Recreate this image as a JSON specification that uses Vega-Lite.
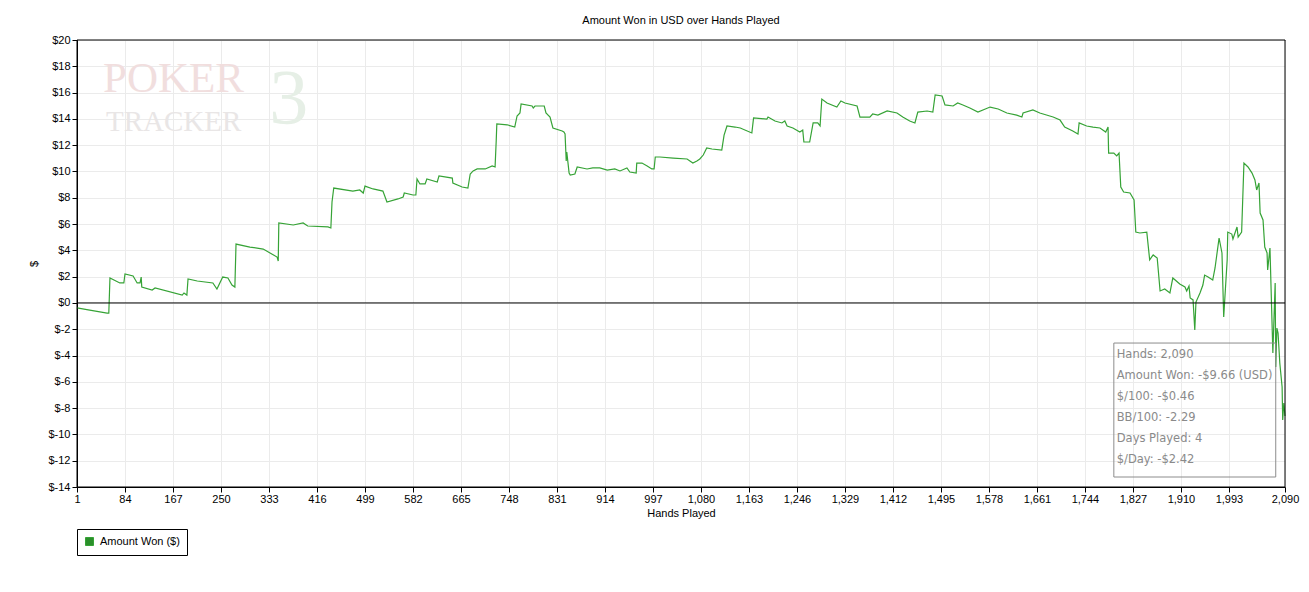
{
  "$schema": "https://vega.github.io/schema/vega-lite/v6.json",
  "width": 1208,
  "height": 447,
  "autosize": "none",
  "padding": {"left": 77, "top": 40, "right": 24, "bottom": 105},
  "background": "white",
  "title": {
    "text": "Amount Won in USD over Hands Played",
    "font": "Liberation Sans",
    "fontSize": 11,
    "fontWeight": "normal",
    "color": "black",
    "offset": 8
  },
  "config": {
    "font": "Liberation Sans",
    "view": {"stroke": "black", "strokeWidth": 1},
    "axis": {
      "domainColor": "black",
      "tickColor": "black",
      "tickSize": 5,
      "labelColor": "black",
      "labelFont": "Liberation Sans",
      "labelFontSize": 11,
      "labelOverlap": false,
      "titleFont": "Liberation Sans",
      "titleFontSize": 11,
      "titleFontWeight": "normal",
      "titleColor": "black",
      "gridColor": "#ebebeb",
      "gridWidth": 1
    }
  },
  "datasets": {
    "won": [
      {"hand": 1, "amount": -0.38}, {"hand": 23, "amount": -0.54}, {"hand": 53, "amount": -0.77}, {"hand": 56, "amount": -0.77},
      {"hand": 58, "amount": 1.9}, {"hand": 75, "amount": 1.52}, {"hand": 82, "amount": 1.52}, {"hand": 84, "amount": 2.2},
      {"hand": 98, "amount": 2.05}, {"hand": 105, "amount": 1.52}, {"hand": 110, "amount": 1.52}, {"hand": 112, "amount": 1.97},
      {"hand": 113, "amount": 1.21}, {"hand": 131, "amount": 0.98}, {"hand": 136, "amount": 1.14}, {"hand": 183, "amount": 0.6},
      {"hand": 186, "amount": 0.76}, {"hand": 191, "amount": 0.6}, {"hand": 193, "amount": 1.82}, {"hand": 209, "amount": 1.67},
      {"hand": 236, "amount": 1.52}, {"hand": 243, "amount": 1.06}, {"hand": 253, "amount": 1.97}, {"hand": 262, "amount": 1.9},
      {"hand": 269, "amount": 1.36}, {"hand": 274, "amount": 1.21}, {"hand": 276, "amount": 4.48}, {"hand": 300, "amount": 4.25},
      {"hand": 323, "amount": 4.1}, {"hand": 347, "amount": 3.49}, {"hand": 349, "amount": 3.19}, {"hand": 350, "amount": 6.08},
      {"hand": 375, "amount": 5.93}, {"hand": 392, "amount": 6.08}, {"hand": 400, "amount": 5.85}, {"hand": 435, "amount": 5.78},
      {"hand": 440, "amount": 5.7}, {"hand": 442, "amount": 7.68}, {"hand": 445, "amount": 8.74}, {"hand": 478, "amount": 8.51},
      {"hand": 490, "amount": 8.59}, {"hand": 496, "amount": 8.36}, {"hand": 499, "amount": 8.89}, {"hand": 513, "amount": 8.67},
      {"hand": 530, "amount": 8.51}, {"hand": 537, "amount": 7.68}, {"hand": 556, "amount": 7.91}, {"hand": 565, "amount": 8.06},
      {"hand": 567, "amount": 8.36}, {"hand": 582, "amount": 8.21}, {"hand": 587, "amount": 8.21}, {"hand": 589, "amount": 9.43},
      {"hand": 594, "amount": 9.05}, {"hand": 603, "amount": 9.05}, {"hand": 606, "amount": 9.43}, {"hand": 624, "amount": 9.2},
      {"hand": 627, "amount": 9.66}, {"hand": 650, "amount": 9.5}, {"hand": 651, "amount": 9.12}, {"hand": 667, "amount": 8.82},
      {"hand": 677, "amount": 8.74}, {"hand": 681, "amount": 9.81}, {"hand": 686, "amount": 10.04}, {"hand": 693, "amount": 10.19},
      {"hand": 707, "amount": 10.19}, {"hand": 719, "amount": 10.42}, {"hand": 724, "amount": 10.34}, {"hand": 726, "amount": 12.39},
      {"hand": 727, "amount": 13.61}, {"hand": 745, "amount": 13.55}, {"hand": 758, "amount": 13.38}, {"hand": 762, "amount": 14.22},
      {"hand": 767, "amount": 14.45}, {"hand": 769, "amount": 15.13}, {"hand": 788, "amount": 14.98}, {"hand": 790, "amount": 14.83},
      {"hand": 793, "amount": 14.98}, {"hand": 809, "amount": 14.98}, {"hand": 812, "amount": 14.45}, {"hand": 819, "amount": 14.14},
      {"hand": 824, "amount": 13.31}, {"hand": 840, "amount": 13.08}, {"hand": 843, "amount": 13.0}, {"hand": 845, "amount": 12.85},
      {"hand": 847, "amount": 10.8}, {"hand": 848, "amount": 11.48}, {"hand": 852, "amount": 9.88}, {"hand": 854, "amount": 9.73},
      {"hand": 862, "amount": 9.81}, {"hand": 866, "amount": 10.34}, {"hand": 883, "amount": 10.19}, {"hand": 893, "amount": 10.27},
      {"hand": 905, "amount": 10.27}, {"hand": 918, "amount": 10.11}, {"hand": 931, "amount": 10.19}, {"hand": 940, "amount": 10.04},
      {"hand": 952, "amount": 10.27}, {"hand": 957, "amount": 9.96}, {"hand": 968, "amount": 9.88}, {"hand": 969, "amount": 10.64},
      {"hand": 978, "amount": 10.64}, {"hand": 987, "amount": 10.42}, {"hand": 995, "amount": 10.19}, {"hand": 999, "amount": 10.19},
      {"hand": 1001, "amount": 11.1}, {"hand": 1009, "amount": 11.1}, {"hand": 1032, "amount": 11.02}, {"hand": 1056, "amount": 10.95},
      {"hand": 1066, "amount": 10.64}, {"hand": 1073, "amount": 10.8}, {"hand": 1078, "amount": 10.95}, {"hand": 1084, "amount": 11.25},
      {"hand": 1090, "amount": 11.79}, {"hand": 1099, "amount": 11.71}, {"hand": 1116, "amount": 11.63}, {"hand": 1120, "amount": 12.77},
      {"hand": 1125, "amount": 13.46}, {"hand": 1139, "amount": 13.38}, {"hand": 1148, "amount": 13.31}, {"hand": 1168, "amount": 12.93},
      {"hand": 1171, "amount": 14.07}, {"hand": 1194, "amount": 13.99}, {"hand": 1196, "amount": 14.14}, {"hand": 1208, "amount": 13.84},
      {"hand": 1220, "amount": 13.69}, {"hand": 1225, "amount": 13.84}, {"hand": 1229, "amount": 13.46}, {"hand": 1239, "amount": 13.31},
      {"hand": 1251, "amount": 13.0}, {"hand": 1256, "amount": 13.15}, {"hand": 1258, "amount": 12.24}, {"hand": 1268, "amount": 12.24},
      {"hand": 1274, "amount": 13.69}, {"hand": 1282, "amount": 13.69}, {"hand": 1286, "amount": 13.46}, {"hand": 1289, "amount": 15.51},
      {"hand": 1298, "amount": 15.21}, {"hand": 1315, "amount": 14.9}, {"hand": 1322, "amount": 15.36}, {"hand": 1329, "amount": 15.21},
      {"hand": 1350, "amount": 14.98}, {"hand": 1355, "amount": 14.14}, {"hand": 1372, "amount": 14.14}, {"hand": 1377, "amount": 14.37},
      {"hand": 1386, "amount": 14.29}, {"hand": 1402, "amount": 14.6}, {"hand": 1419, "amount": 14.45}, {"hand": 1429, "amount": 14.14},
      {"hand": 1441, "amount": 13.84}, {"hand": 1450, "amount": 13.69}, {"hand": 1455, "amount": 14.52}, {"hand": 1471, "amount": 14.6},
      {"hand": 1481, "amount": 14.52}, {"hand": 1485, "amount": 15.82}, {"hand": 1497, "amount": 15.74}, {"hand": 1502, "amount": 15.06},
      {"hand": 1516, "amount": 14.98}, {"hand": 1524, "amount": 15.21}, {"hand": 1533, "amount": 15.06}, {"hand": 1545, "amount": 14.83},
      {"hand": 1559, "amount": 14.52}, {"hand": 1580, "amount": 14.9}, {"hand": 1594, "amount": 14.75}, {"hand": 1609, "amount": 14.45},
      {"hand": 1626, "amount": 14.29}, {"hand": 1635, "amount": 14.14}, {"hand": 1637, "amount": 14.45}, {"hand": 1654, "amount": 14.68},
      {"hand": 1666, "amount": 14.45}, {"hand": 1689, "amount": 14.14}, {"hand": 1701, "amount": 13.91}, {"hand": 1709, "amount": 13.38},
      {"hand": 1723, "amount": 13.08}, {"hand": 1732, "amount": 12.85}, {"hand": 1734, "amount": 13.69}, {"hand": 1747, "amount": 13.46},
      {"hand": 1758, "amount": 13.38}, {"hand": 1770, "amount": 13.31}, {"hand": 1780, "amount": 13.0}, {"hand": 1784, "amount": 13.38},
      {"hand": 1785, "amount": 11.4}, {"hand": 1794, "amount": 11.4}, {"hand": 1799, "amount": 11.18}, {"hand": 1803, "amount": 11.4},
      {"hand": 1806, "amount": 8.82}, {"hand": 1811, "amount": 8.44}, {"hand": 1822, "amount": 8.36}, {"hand": 1829, "amount": 7.83},
      {"hand": 1832, "amount": 5.39}, {"hand": 1839, "amount": 5.32}, {"hand": 1851, "amount": 5.39}, {"hand": 1856, "amount": 3.27},
      {"hand": 1862, "amount": 3.65}, {"hand": 1869, "amount": 3.42}, {"hand": 1874, "amount": 0.91}, {"hand": 1882, "amount": 1.06},
      {"hand": 1891, "amount": 0.76}, {"hand": 1896, "amount": 1.9}, {"hand": 1908, "amount": 1.44}, {"hand": 1917, "amount": 1.21},
      {"hand": 1920, "amount": 0.91}, {"hand": 1924, "amount": 1.29}, {"hand": 1926, "amount": 0.38}, {"hand": 1931, "amount": 0.23},
      {"hand": 1934, "amount": -2.06}, {"hand": 1936, "amount": 0.07}, {"hand": 1943, "amount": 0.76}, {"hand": 1948, "amount": 1.36},
      {"hand": 1951, "amount": 2.12}, {"hand": 1957, "amount": 1.97}, {"hand": 1965, "amount": 1.74}, {"hand": 1969, "amount": 2.66},
      {"hand": 1976, "amount": 4.94}, {"hand": 1981, "amount": 3.8}, {"hand": 1984, "amount": -1.07}, {"hand": 1990, "amount": 3.27},
      {"hand": 1991, "amount": 5.39}, {"hand": 1998, "amount": 5.24}, {"hand": 2000, "amount": 4.86}, {"hand": 2007, "amount": 5.78},
      {"hand": 2009, "amount": 5.01}, {"hand": 2015, "amount": 5.39}, {"hand": 2019, "amount": 10.64}, {"hand": 2026, "amount": 10.34},
      {"hand": 2033, "amount": 9.88}, {"hand": 2038, "amount": 9.35}, {"hand": 2041, "amount": 8.59}, {"hand": 2045, "amount": 9.12},
      {"hand": 2047, "amount": 6.84}, {"hand": 2052, "amount": 6.31}, {"hand": 2055, "amount": 4.25}, {"hand": 2059, "amount": 3.8},
      {"hand": 2060, "amount": 2.51}, {"hand": 2064, "amount": 4.18}, {"hand": 2066, "amount": 0.98}, {"hand": 2069, "amount": -3.81},
      {"hand": 2073, "amount": 1.52}, {"hand": 2074, "amount": -4.87}, {"hand": 2076, "amount": -1.91}, {"hand": 2078, "amount": -2.29},
      {"hand": 2081, "amount": -4.57}, {"hand": 2085, "amount": -6.39}, {"hand": 2086, "amount": -8.9}, {"hand": 2088, "amount": -7.61},
      {"hand": 2090, "amount": -8.6}
    ],
    "stats": [
      {"hand": 1799, "amount": -3.96, "label": "Hands: 2,090"},
      {"hand": 1799, "amount": -5.56, "label": "Amount Won: -$9.66 (USD)"},
      {"hand": 1799, "amount": -7.15, "label": "$/100: -$0.46"},
      {"hand": 1799, "amount": -8.75, "label": "BB/100: -2.29"},
      {"hand": 1799, "amount": -10.35, "label": "Days Played: 4"},
      {"hand": 1799, "amount": -11.95, "label": "$/Day: -$2.42"}
    ]
  },
  "layer": [
    {
      "data": {"name": "won"},
      "mark": {"type": "line", "strokeWidth": 1.2, "interpolate": "linear"},
      "encoding": {
        "x": {
          "field": "hand",
          "type": "quantitative",
          "scale": {"domain": [1, 2090], "nice": false, "zero": false},
          "axis": {
            "title": "Hands Played",
            "values": [1, 84, 167, 250, 333, 416, 499, 582, 665, 748, 831, 914, 997, 1080, 1163, 1246, 1329, 1412, 1495, 1578, 1661, 1744, 1827, 1910, 1993, 2090],
            "tickCount": 30,
            "format": ",d",
            "labelPadding": 1,
            "labelFlush": false,
            "labelOverlap": false,
            "titlePadding": 3
          }
        },
        "y": {
          "field": "amount",
          "type": "quantitative",
          "scale": {"domain": [-14, 20], "nice": false, "zero": false},
          "axis": {
            "title": "$",
            "values": [-14, -12, -10, -8, -6, -4, -2, 0, 2, 4, 6, 8, 10, 12, 14, 16, 18, 20],
            "tickCount": 20,
            "labelExpr": "'$' + datum.value",
            "labelOverlap": false,
            "labelFlush": false,
            "labelPadding": 2,
            "titlePadding": 8
          }
        },
        "color": {
          "datum": "Amount Won ($)",
          "type": "nominal",
          "scale": {"range": ["#36a336"]},
          "legend": {
            "title": null,
            "orient": "none",
            "legendX": 0,
            "legendY": 489,
            "direction": "vertical",
            "symbolType": "square",
            "symbolSize": 64,
            "strokeColor": "black",
            "fillColor": "white",
            "padding": 7,
            "labelFont": "Liberation Sans",
            "labelFontSize": 11,
            "labelColor": "black",
            "labelOffset": 5,
            "encode": {
              "symbols": {"update": {"fill": {"value": "#2a8f2a"}, "stroke": {"value": "black"}, "strokeWidth": {"value": 1}, "opacity": {"value": 1}}}
            }
          }
        }
      }
    },
    {
      "data": {"values": [{"word": "POKER", "hand": 46, "amount": 17.0}]},
      "mark": {"type": "text", "font": "Liberation Serif", "fontSize": 43, "align": "left", "baseline": "middle", "color": "#f1dede"},
      "encoding": {
        "x": {"field": "hand", "type": "quantitative"},
        "y": {"field": "amount", "type": "quantitative"},
        "text": {"field": "word"}
      }
    },
    {
      "data": {"values": [{"word": "3", "hand": 367, "amount": 15.4}]},
      "mark": {"type": "text", "font": "Liberation Serif", "fontSize": 78, "align": "center", "baseline": "middle", "color": "#e6efe6"},
      "encoding": {
        "x": {"field": "hand", "type": "quantitative"},
        "y": {"field": "amount", "type": "quantitative"},
        "text": {"field": "word"}
      }
    },
    {
      "data": {"values": [{"word": "TRACKER", "hand": 51, "amount": 13.8}]},
      "mark": {"type": "text", "font": "Liberation Serif", "fontSize": 29, "align": "left", "baseline": "middle", "color": "#e9e6e6"},
      "encoding": {
        "x": {"field": "hand", "type": "quantitative"},
        "y": {"field": "amount", "type": "quantitative"},
        "text": {"field": "word"}
      }
    },
    {
      "data": {"values": [{"amount": 0}]},
      "mark": {"type": "rule", "color": "black", "strokeWidth": 1},
      "encoding": {"y": {"field": "amount", "type": "quantitative"}}
    },
    {
      "data": {"values": [{"h1": 1794, "h2": 2074, "a1": -3.05, "a2": -13.24}]},
      "mark": {"type": "rect", "fill": "white", "fillOpacity": 0, "stroke": "#8c8c8c", "strokeWidth": 1},
      "encoding": {
        "x": {"field": "h1", "type": "quantitative"},
        "x2": {"field": "h2"},
        "y": {"field": "a1", "type": "quantitative"},
        "y2": {"field": "a2"}
      }
    },
    {
      "data": {"name": "stats"},
      "mark": {"type": "text", "font": "DejaVu Sans", "fontSize": 11.5, "align": "left", "baseline": "middle", "color": "#8a8a8a"},
      "encoding": {
        "x": {"field": "hand", "type": "quantitative"},
        "y": {"field": "amount", "type": "quantitative"},
        "text": {"field": "label"}
      }
    },
    {
      "data": {"values": [{"h1": 1, "h2": 2090, "a1": -14, "a2": 20}]},
      "mark": {"type": "rect", "fillOpacity": 0, "stroke": "black", "strokeWidth": 1},
      "encoding": {
        "x": {"field": "h1", "type": "quantitative"},
        "x2": {"field": "h2"},
        "y": {"field": "a1", "type": "quantitative"},
        "y2": {"field": "a2"}
      }
    }
  ]
}
